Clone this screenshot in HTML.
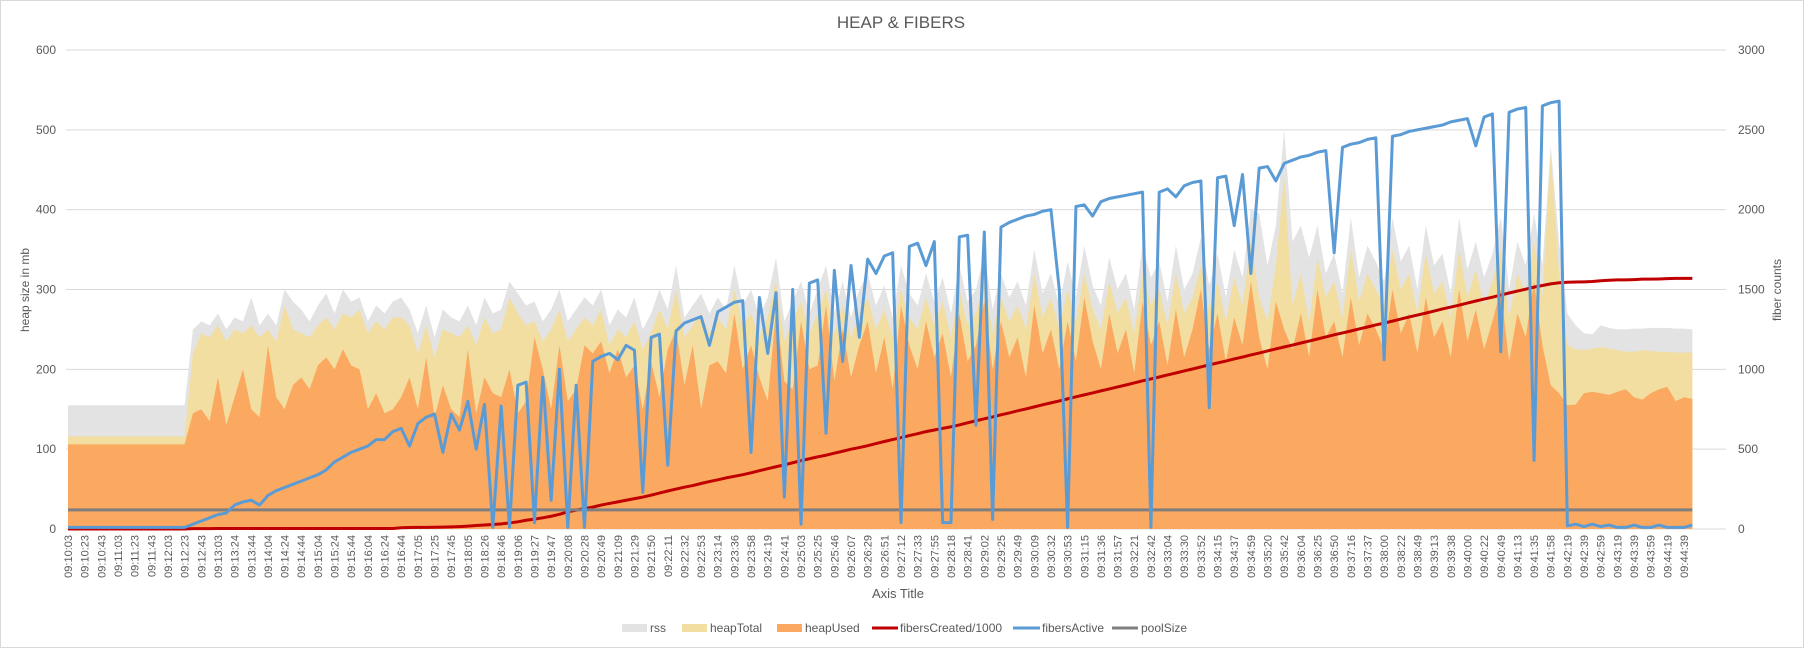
<!DOCTYPE html>
<html><head><meta charset="utf-8"><title>HEAP & FIBERS</title>
<style>
html,body{margin:0;padding:0;background:#fff;}
svg{display:block;font-family:"Liberation Sans",Arial,sans-serif;}
</style></head>
<body>
<svg id="chart" width="1804" height="648" viewBox="0 0 1804 648" xmlns="http://www.w3.org/2000/svg">
<rect x="0.5" y="0.5" width="1803" height="647" fill="#fff" stroke="#d9d9d9"/>
<text x="901" y="28" text-anchor="middle" font-size="17" fill="#595959">HEAP &amp; FIBERS</text>
<g id="grid"></g>
<g id="areas"></g>
<g id="lines"></g>
<g id="yleft"></g>
<g id="yright"></g>
<g id="xaxis"></g>
<text transform="translate(29,290) rotate(-90)" text-anchor="middle" font-size="12" fill="#595959">heap size in mb</text>
<text transform="translate(1781,290) rotate(-90)" text-anchor="middle" font-size="12" fill="#595959">fiber counts</text>
<text x="898" y="598" text-anchor="middle" font-size="13" fill="#595959">Axis Title</text>
<g font-size="12" fill="#595959">
 <g><rect x="622" y="624" width="25" height="8" fill="#e3e3e3"/><text x="650" y="632">rss</text></g>
 <g><rect x="682" y="624" width="25" height="8" fill="#f2dea0"/><text x="710" y="632">heapTotal</text></g>
 <g><rect x="777" y="624" width="25" height="8" fill="#fba860"/><text x="805" y="632">heapUsed</text></g>
 <g><line x1="872" y1="628" x2="898" y2="628" stroke="#c00000" stroke-width="3"/><text x="900" y="632">fibersCreated/1000</text></g>
 <g><line x1="1013" y1="628" x2="1040" y2="628" stroke="#5b9bd5" stroke-width="3"/><text x="1042" y="632">fibersActive</text></g>
 <g><line x1="1112" y1="628" x2="1138" y2="628" stroke="#7f7f7f" stroke-width="3"/><text x="1141" y="632">poolSize</text></g>
</g>
</svg>
<script>
const tickLabels = ["09:10:03","09:10:23","09:10:43","09:11:03","09:11:23","09:11:43","09:12:03","09:12:23","09:12:43","09:13:03","09:13:24","09:13:44","09:14:04","09:14:24","09:14:44","09:15:04","09:15:24","09:15:44","09:16:04","09:16:24","09:16:44","09:17:05","09:17:25","09:17:45","09:18:05","09:18:26","09:18:46","09:19:06","09:19:27","09:19:47","09:20:08","09:20:28","09:20:49","09:21:09","09:21:29","09:21:50","09:22:11","09:22:32","09:22:53","09:23:14","09:23:36","09:23:58","09:24:19","09:24:41","09:25:03","09:25:25","09:25:46","09:26:07","09:26:29","09:26:51","09:27:12","09:27:33","09:27:55","09:28:18","09:28:41","09:29:02","09:29:25","09:29:49","09:30:09","09:30:32","09:30:53","09:31:15","09:31:36","09:31:57","09:32:21","09:32:42","09:33:04","09:33:30","09:33:52","09:34:15","09:34:37","09:34:59","09:35:20","09:35:42","09:36:04","09:36:25","09:36:50","09:37:16","09:37:37","09:38:00","09:38:22","09:38:49","09:39:13","09:39:38","09:40:00","09:40:22","09:40:49","09:41:13","09:41:35","09:41:58","09:42:19","09:42:39","09:42:59","09:43:19","09:43:39","09:43:59","09:44:19","09:44:39"];
const leftTicks = [0,100,200,300,400,500,600];
const rightTicks = [0,500,1000,1500,2000,2500,3000];
const heapUsed = [106,106,106,106,106,106,106,106,106,106,106,106,106,106,106,
145,150,135,190,130,
165,200,150,140,230,165,150,180,190,175,
205,215,200,225,205,200,150,170,145,150,
165,190,150,215,140,180,150,140,225,145,
190,170,165,200,145,160,240,200,150,230,
160,175,230,220,235,195,225,190,205,150,
210,165,225,250,180,230,150,205,210,195,
270,200,230,190,160,275,185,175,260,200,
205,280,185,250,190,230,260,195,240,175,
280,230,200,260,215,245,190,270,210,230,
285,200,260,215,240,190,280,220,250,200,
260,210,290,235,200,270,220,250,195,285,
230,260,205,275,215,250,300,225,270,210,
265,230,310,240,200,285,250,225,270,215,
300,240,260,215,290,230,270,250,225,300,
245,270,220,290,240,260,215,300,235,275,
225,260,300,210,270,240,310,230,180,170,
155,156,170,172,170,168,172,175,165,162,
170,175,178,160,165,163];
const heapTotal = [116,116,116,116,116,116,116,116,116,116,116,116,116,116,116,
220,245,240,255,235,
250,245,255,240,250,235,280,250,245,240,
255,265,250,270,265,275,245,260,250,265,
265,255,220,255,215,250,245,240,255,230,
265,245,250,290,270,255,260,235,250,275,
235,250,265,255,275,230,250,240,260,225,
245,275,250,300,240,255,270,245,265,250,
300,255,270,240,265,310,235,260,285,245,
270,300,245,280,240,270,290,250,275,240,
300,265,250,290,255,285,240,300,255,270,
310,245,290,260,280,250,320,265,290,250,
300,260,320,275,250,310,270,290,245,320,
280,300,255,320,270,290,330,275,310,260,
315,280,360,290,260,330,440,280,320,260,
340,290,310,265,350,285,320,300,280,350,
300,320,270,345,295,310,265,350,290,325,
280,310,350,265,320,295,360,290,470,320,
230,225,224,226,228,226,224,222,222,224,
223,222,222,221,221,221];
const rss = [155,155,155,155,155,155,155,155,155,155,155,155,155,155,155,
250,260,255,270,250,
265,260,290,255,270,255,300,285,275,260,
280,295,270,300,285,290,260,280,270,285,
290,275,245,280,240,275,265,260,280,255,
290,270,275,310,295,280,285,260,275,300,
260,275,290,280,300,255,275,265,290,250,
270,300,275,330,265,280,295,270,290,275,
330,280,300,265,290,340,260,285,310,270,
300,330,270,310,265,300,320,280,305,265,
330,295,280,320,285,315,270,330,285,300,
345,275,320,290,310,280,350,295,320,280,
335,290,355,305,280,340,300,320,275,355,
315,335,285,355,300,320,365,305,345,290,
350,315,400,395,330,380,500,360,380,340,
380,320,345,295,390,315,355,335,310,390,
335,355,300,380,330,345,295,390,325,360,
315,345,390,300,360,330,395,330,480,360,
270,255,245,244,255,252,250,250,251,251,
252,252,252,251,251,250];
const fibersActive = [10,10,10,10,10,10,10,10,10,10,10,10,10,10,10,
30,50,70,90,100,150,170,180,150,210,
240,260,280,300,320,340,370,420,450,480,
500,520,560,560,610,630,520,660,700,720,
480,720,620,800,500,780,10,770,10,900,
920,40,950,180,1000,10,900,10,1050,1080,
1100,1060,1150,1120,230,1200,1220,400,1240,1290,
1310,1330,1150,1360,1390,1420,1430,480,1450,1100,
1480,200,1500,30,1540,1560,600,1620,1050,1650,
1200,1690,1600,1710,1730,40,1770,1790,1650,1800,
40,40,1830,1840,650,1860,60,1890,1920,1940,
1960,1970,1990,2000,1500,10,2020,2030,1960,2050,
2070,2080,2090,2100,2110,10,2110,2130,2080,2150,
2170,2180,760,2200,2210,1900,2220,1600,2260,2270,
2180,2290,2310,2330,2340,2360,2370,1730,2390,2410,
2420,2440,2450,1060,2460,2470,2490,2500,2510,2520,
2530,2550,2560,2570,2400,2580,2600,1110,2610,2630,
2640,430,2650,2670,2680,
20,30,15,30,15,25,10,10,25,10,10,25,10,10,10,25];
const fibersCreated = [0,0,0,0,0,0,0,0,0,0,0,0,0,0,0,
2,2,2,3,3,3,3,3,3,3,3,3,3,3,3,3,3,3,3,3,3,3,3,3,3,
8,9,10,10,11,12,13,15,18,22,25,28,32,38,45,55,62,70,80,92,
108,118,128,137,150,160,170,180,190,200,212,225,238,250,262,272,285,297,308,320,330,340,352,365,378,390,402,415,428,440,452,462,475,487,500,510,522,535,548,560,572,585,597,610,620,630,640,
652,665,678,690,702,715,727,740,752,765,778,790,802,815,828,840,852,865,877,890,902,915,928,940,952,965,977,990,1002,1015,1028,1040,1052,1065,1077,1090,1102,1115,1128,1140,1152,1165,1177,1190,1203,1216,
1228,1240,1253,1265,1278,1290,1302,1315,1328,1340,1352,1365,1378,1390,1402,1415,1428,1440,1452,1465,1478,1490,1502,1515,1525,1535,1542,
1545,1547,1548,1550,1555,1558,1560,1560,1562,1565,1565,1566,1568,1570,1570,1570];
const poolSizeValue = [120];

const NS = "http://www.w3.org/2000/svg";
const X0 = 68, LABEL_STEP = 16.66, PTS_PER_LABEL = 2;
const Y0 = 529, Y_TOP = 50;
function xOf(i){ return X0 + i * LABEL_STEP / PTS_PER_LABEL; }
function yLeft(v){ return Y0 - (v / 600) * (Y0 - Y_TOP); }
function yRight(v){ return Y0 - (v / 3000) * (Y0 - Y_TOP); }
function mk(tag, attrs, parent){ const e = document.createElementNS(NS, tag); for (const k in attrs) e.setAttribute(k, attrs[k]); parent.appendChild(e); return e; }

const grid = document.getElementById('grid');
const yl = document.getElementById('yleft');
const yr = document.getElementById('yright');
leftTicks.forEach((t) => {
  const g = mk('line', {x1: 66, x2: 1726, y1: yLeft(t), y2: yLeft(t), stroke: '#d9d9d9', 'stroke-width': 1}, grid);
  
  
  const tx = mk('text', {x: 56, y: yLeft(t) + 4, 'text-anchor': 'end', 'font-size': 12, fill: '#595959'}, yl);
  tx.textContent = t;
  
  
});
rightTicks.forEach((t) => {
  const tx = mk('text', {x: 1738, y: yRight(t) + 4, 'text-anchor': 'start', 'font-size': 12, fill: '#595959'}, yr);
  tx.textContent = t;
  
  
});

const xa = document.getElementById('xaxis');
tickLabels.forEach((lab, L) => {
  const x = xOf(L * PTS_PER_LABEL);
  const tx = mk('text', {transform: `translate(${x + 4},535) rotate(-90)`, 'text-anchor': 'end', 'font-size': 11, fill: '#595959'}, xa);
  tx.textContent = lab;
  
  
});

const areas = document.getElementById('areas');
function area(vals, color, name){
  let d = `M${xOf(0)},${Y0}`;
  vals.forEach((v, i) => { d += ` L${xOf(i).toFixed(2)},${yLeft(v).toFixed(2)}`; });
  d += ` L${xOf(vals.length - 1).toFixed(2)},${Y0} Z`;
  const p = mk('path', {d: d, fill: color}, areas);
  
  
}
area(rss, '#e3e3e3', 'area-rss');
area(heapTotal, '#f2dea0', 'area-heaptotal');
area(heapUsed, '#fba860', 'area-heapused');

const lines = document.getElementById('lines');
function line(vals, color, name){
  let d = '';
  vals.forEach((v, i) => { d += (i ? ' L' : 'M') + xOf(i).toFixed(2) + ',' + yRight(v).toFixed(2); });
  const p = mk('path', {d: d, fill: 'none', stroke: color, 'stroke-width': 3, 'stroke-linejoin': 'round'}, lines);
  
  
}
line(fibersCreated, '#c00000', 'line-fiberscreated');
const poolSize = rss.map(() => poolSizeValue[0]);
line(poolSize, '#7f7f7f', 'line-poolsize');
line(fibersActive, '#5b9bd5', 'line-fibersactive');
</script>
</body></html>
